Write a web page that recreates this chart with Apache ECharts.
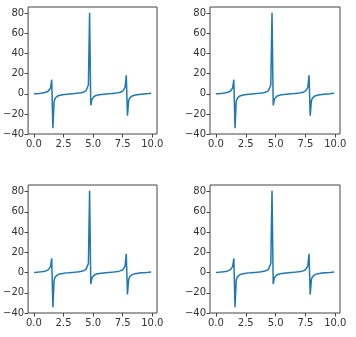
<!DOCTYPE html>
<html>
<head>
<meta charset="utf-8">
<script src="https://cdn.jsdelivr.net/npm/echarts@6/dist/echarts.min.js"></script>
<style>
html,body{margin:0;padding:0;background:#fff;}
#c{width:356px;height:337px;}
</style>
</head>
<body>
<div id="c"></div>
<script>
// x sample positions
var xs = [0.0,0.1,0.2,0.3,0.4,0.5,0.6,0.7,0.8,0.9,
          1.0,1.1,1.2,1.3,1.4,1.5,1.6,1.7,1.8,1.9,
          2.0,2.1,2.2,2.3,2.4,2.5,2.6,2.7,2.8,2.9,
          3.0,3.1,3.2,3.3,3.4,3.5,3.6,3.7,3.8,3.9,
          4.0,4.1,4.2,4.3,4.4,4.5,4.6,4.7,4.8,4.9,
          5.0,5.1,5.2,5.3,5.4,5.5,5.6,5.7,5.8,5.9,
          6.0,6.1,6.2,6.3,6.4,6.5,6.6,6.7,6.8,6.9,
          7.0,7.1,7.2,7.3,7.4,7.5,7.6,7.7,7.8,7.9,
          8.0,8.1,8.2,8.3,8.4,8.5,8.6,8.7,8.8,8.9,
          9.0,9.1,9.2,9.3,9.4,9.5,9.6,9.7,9.8,9.9];
// y values (same curve in all four panels)
var ys = [0.00,0.10,0.20,0.31,0.42,0.55,0.68,0.84,1.03,1.26,
          1.56,1.96,2.57,3.60,5.80,14.10,-34.23,-7.70,-4.29,-2.93,
          -2.19,-1.71,-1.37,-1.12,-0.92,-0.75,-0.60,-0.47,-0.36,-0.24,
          -0.14,-0.04,0.06,0.16,0.26,0.37,0.49,0.62,0.77,0.95,
          1.16,1.42,1.78,2.28,3.10,4.64,8.86,80.71,-11.38,-5.27,
          -3.38,-2.45,-1.89,-1.50,-1.22,-0.99,-0.81,-0.66,-0.53,-0.41,
          -0.29,-0.19,-0.08,0.02,0.12,0.22,0.33,0.44,0.57,0.71,
          0.87,1.07,1.31,1.63,2.05,2.70,3.84,6.44,18.50,-21.70,
          -6.80,-3.98,-2.78,-2.09,-1.64,-1.33,-1.08,-0.89,-0.72,-0.57,
          -0.45,-0.34,-0.23,-0.13,-0.03,0.07,0.17,0.28,0.39,0.51];
var xTicks = [0, 2.5, 5, 7.5, 10];
var yTicks = [-40, -20, 0, 20, 40, 60, 80];

var pts = xs.map(function(x, i){ return [x, ys[i]]; });
var grids = [
  {left:27, top:7, width:130, height:127},
  {left:210, top:7, width:130, height:127},
  {left:27, top:185, width:130, height:128},
  {left:210, top:185, width:130, height:128}
];
var font = 'DejaVu Sans';
function fmtX(v){ return (+v).toFixed(1); }
function fmtY(v){ return String(Math.round(v)).replace('-', '\u2212'); }
var option = {
  animation:false,
  backgroundColor:'#fff',
  grid: grids.map(function(g){ return Object.assign({show:true, borderColor:'#444', borderWidth:1, backgroundColor:'transparent'}, g); }),
  xAxis: grids.map(function(g, i){ return {
    type:'value', gridIndex:i, min:-0.495, max:10.395, position:'bottom',
    splitLine:{show:false},
    axisLine:{show:false, onZero:false},
    axisTick:{show:true, length:3.5, lineStyle:{color:'#444'}, customValues:xTicks},
    axisLabel:{show:true, customValues:xTicks, formatter:fmtX, fontFamily:font, fontSize:10, color:'#333', margin:5}
  }; }),
  yAxis: grids.map(function(g, i){ return {
    type:'value', gridIndex:i, min:-40, max:86.46, position:'left',
    splitLine:{show:false},
    axisLine:{show:false, onZero:false},
    axisTick:{show:true, length:3.5, lineStyle:{color:'#444'}, customValues:yTicks},
    axisLabel:{show:true, customValues:yTicks, formatter:fmtY, fontFamily:font, fontSize:10, color:'#333', margin:4}
  }; }),
  series: grids.map(function(g, i){ return {
    type:'line', xAxisIndex:i, yAxisIndex:i, data:pts, showSymbol:false,
    lineStyle:{color:'#1f77b4', width:1.5}, itemStyle:{color:'#1f77b4'}
  }; })
};
echarts.init(document.getElementById('c'), null, {renderer:'canvas'}).setOption(option);
</script>
</body>
</html>
